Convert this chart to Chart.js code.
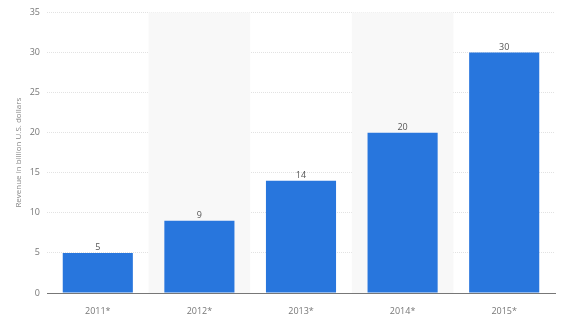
<!DOCTYPE html>
<html>
<head>
<meta charset="utf-8">
<script src="https://cdn.jsdelivr.net/npm/chart.js@4"></script>
<style>
  body { margin: 0; background: #fff; }
  #wrap { width: 568px; height: 314px; }
</style>
</head>
<body>
<div id="wrap"><canvas id="myChart"></canvas></div>
<script>
const years = ['2011*', '2012*', '2013*', '2014*', '2015*'];
const revenue = [5, 9, 14, 20, 30];
const yTicks = [0, 5, 10, 15, 20, 25, 30, 35];
const shadedYears = ['2012*', '2014*'];

// grey background bands behind every other category
const bands = {
  id: 'bands',
  beforeDatasetsDraw(chart) {
    const ctx = chart.ctx, x = chart.scales.x, area = chart.chartArea;
    const w = (area.right - area.left) / years.length;
    ctx.save();
    ctx.fillStyle = '#f8f8f8';
    shadedYears.forEach(y => {
      const cx = x.getPixelForValue(years.indexOf(y));
      ctx.fillRect(cx - w / 2, area.top, w, area.bottom - area.top);
    });
    ctx.restore();
  }
};

// value labels on top of bars
const valueLabels = {
  id: 'valueLabels',
  afterDatasetsDraw(chart) {
    const ctx = chart.ctx;
    ctx.save();
    ctx.font = '9px "Open Sans", sans-serif';
    ctx.fillStyle = '#555';
    ctx.textAlign = 'center';
    ctx.textBaseline = 'bottom';
    chart.getDatasetMeta(0).data.forEach((bar, i) => {
      ctx.fillText(revenue[i], bar.x, bar.y - 1);
    });
    ctx.restore();
  }
};

const ctx = document.getElementById('myChart').getContext('2d');
const myChart = new Chart(ctx, {
  type: 'bar',
  data: {
    labels: years,
    datasets: [{
      data: revenue,
      backgroundColor: '#2876dd',
      borderWidth: 0,
      categoryPercentage: 1,
      barPercentage: 0.69
    }]
  },
  options: {
    responsive: true,
    maintainAspectRatio: false,
    animation: false,
    layout: { padding: { top: 11, right: 13, left: 0, bottom: 0 } },
    plugins: { legend: { display: false }, tooltip: { enabled: false } },
    scales: {
      x: {
        grid: { display: false },
        border: { color: '#777', width: 1 },
        ticks: { color: '#777', font: { family: 'Open Sans', size: 9 }, padding: 5 },
        afterFit(s) { s.height = 21; }
      },
      y: {
        min: 0,
        max: 35,
        afterBuildTicks(s) { s.ticks = yTicks.map(v => ({ value: v })); },
        grid: { color: '#e2e2e2', drawTicks: false },
        border: { display: false, dash: [1, 1] },
        ticks: { color: '#777', font: { family: 'Open Sans', size: 9 }, padding: 7 },
        title: {
          display: true,
          text: 'Revenue in billion U.S. dollars',
          color: '#888',
          font: { family: 'Open Sans', size: 8 },
          padding: { top: 14, bottom: 0 }
        },
        afterFit(s) { s.width = 47; }
      }
    }
  },
  plugins: [bands, valueLabels]
});
</script>
</body>
</html>
